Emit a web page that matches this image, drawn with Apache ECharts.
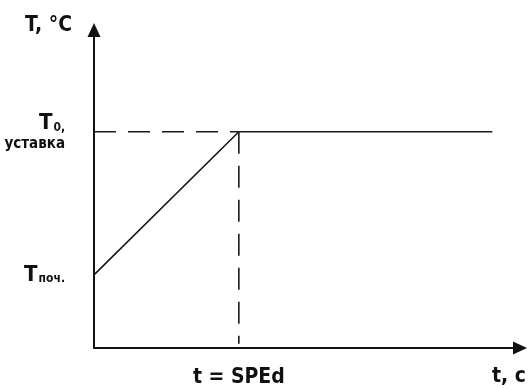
<!DOCTYPE html>
<html>
<head>
<meta charset="utf-8">
<script src="https://cdn.jsdelivr.net/npm/echarts@6/dist/echarts.min.js"></script>
<style>
  html, body { margin: 0; padding: 0; background: #fff; }
  #chart { width: 529px; height: 389px; }
</style>
</head>
<body>
<div id="chart"></div>
<script>
// levels on the temperature axis: start temperature and setpoint
const tempTicks = [23, 68]
const tempTickLabels = ["{t|T}{s|поч.}", "{t|T}{s|0,}\n{u|уставка}"]
// time mark on the x axis
const timeTicks = [34]
const timeTickLabels = ["t = SPEd"]
// the temperature profile: ramp then hold
const profileTime = [0, 34, 93.5]
const profileTemp = [23, 68, 68]
// dashed guide lines
const guideH = { time: [0, 34], temp: [68, 68] }
const guideV = { time: [34, 34], temp: [68, 1.3] }

const FONT = "'Liberation Sans Narrow', 'DejaVu Sans Condensed', 'Roboto', sans-serif"
const pair = (xs, ys) => xs.map((x, i) => [x, ys[i]])

let chart = echarts.init(document.getElementById("chart"))

const axisLine = {
  show: true,
  symbol: ["none", "triangle"],
  symbolSize: [13, 14],
  lineStyle: { color: "#111", width: 2 }
}

chart.setOption({
  animation: false,
  grid: { left: 94, right: 8, top: 30, bottom: 41 },
  xAxis: {
    type: "value",
    min: 0,
    max: 100,
    name: "t, c",
    nameLocation: "end",
    nameGap: -11,
    nameTextStyle: {
      fontFamily: FONT, fontWeight: "bold", fontSize: 21, color: "#111",
      align: "center", verticalAlign: "top", padding: [18, 0, 0, 0]
    },
    axisLine: axisLine,
    axisTick: { show: false },
    splitLine: { show: false },
    axisLabel: {
      customValues: timeTicks,
      formatter: v => timeTickLabels[timeTicks.indexOf(v)],
      margin: 19,
      fontFamily: FONT, fontWeight: "bold", fontSize: 21, color: "#111"
    }
  },
  yAxis: {
    type: "value",
    min: 0,
    max: 100,
    name: "T, °C",
    nameLocation: "end",
    nameGap: 4,
    nameTextStyle: {
      fontFamily: FONT, fontWeight: "bold", fontSize: 21, color: "#111",
      align: "right", verticalAlign: "middle", padding: [0, 22, 0, 0]
    },
    axisLine: axisLine,
    axisTick: { show: false },
    splitLine: { show: false },
    axisLabel: {
      customValues: tempTicks,
      formatter: v => tempTickLabels[tempTicks.indexOf(v)],
      margin: 29,
      align: "right",
      rich: {
        t: { fontFamily: FONT, fontWeight: "bold", fontSize: 22, color: "#111", lineHeight: 24 },
        s: { fontFamily: FONT, fontWeight: "bold", fontSize: 12, color: "#111", padding: [9, 0, 0, 1] },
        u: { fontFamily: FONT, fontWeight: "bold", fontSize: 15, color: "#111", lineHeight: 16 }
      }
    }
  },
  series: [
    {
      type: "line",
      data: pair(profileTime, profileTemp),
      symbol: "none",
      lineStyle: { color: "#1a1a1a", width: 1.6 }
    },
    {
      type: "line",
      data: pair(guideH.time, guideH.temp),
      symbol: "none",
      lineStyle: { color: "#1a1a1a", width: 1.6, type: [22, 12] }
    },
    {
      type: "line",
      data: pair(guideV.time, guideV.temp),
      symbol: "none",
      lineStyle: { color: "#1a1a1a", width: 1.6, type: [22, 12] }
    }
  ]
})
</script>
</body>
</html>
